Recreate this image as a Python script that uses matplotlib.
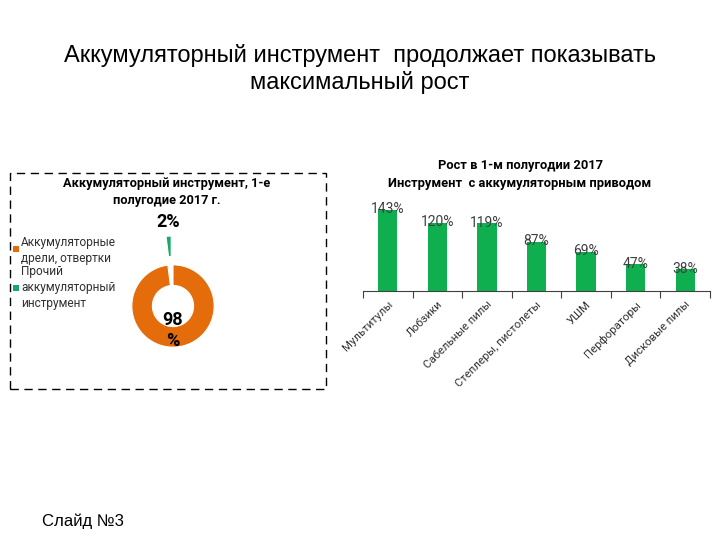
import matplotlib
matplotlib.use("Agg")
import matplotlib.pyplot as plt
from matplotlib.patches import Rectangle

# ---- data ----
pie_labels = ["Аккумуляторные\nдрели, отвертки", "Прочий\nаккумуляторный\nинструмент"]
pie_values = [98, 2]
pie_texts = ["98\n%", "2%"]

bar_categories = ["Мультитулы", "Лобзики", "Сабельные пилы", "Степлеры, пистолеты",
                  "УШМ", "Перфораторы", "Дисковые пилы"]
bar_values = [143, 120, 119, 87, 69, 47, 38]

main_title = "Аккумуляторный инструмент  продолжает показывать\nмаксимальный рост"
pie_title = "Аккумуляторный инструмент, 1-е\nполугодие 2017 г."
bar_title = "Рост в 1-м полугодии 2017\nИнструмент  с аккумуляторным приводом"
footer = "Слайд №3"

ORANGE = "#E46C0A"
PGREEN = "#17A865"
BGREEN = "#0FAF4F"
CF = ["Roboto", "DejaVu Sans"]
TF = ["Liberation Sans", "DejaVu Sans"]

W, H = 720, 540
fig = plt.figure(figsize=(7.2, 5.4), dpi=100)

def fx(px):
    return px / W

def fy(py):
    return 1 - py / H

# main title
fig.text(0.5, fy(69), main_title, ha="center", va="center", fontsize=17,
         family=TF, linespacing=1.2)
fig.text(fx(42), fy(521), footer, ha="left", va="center", fontsize=12, family=TF)

# dashed box
fig.patches.append(Rectangle((fx(10), fy(389)), fx(316), 216 / H, transform=fig.transFigure,
                             fill=False, edgecolor="black", linewidth=1.0,
                             linestyle=(0, (6, 4))))
fig.text(fx(167), fy(192), pie_title, ha="center", va="center", fontsize=9.2,
         fontweight="bold", family=CF, linespacing=1.45)

# ---- donut ----
axp = fig.add_axes([fx(103), fy(376), fx(140), 140 / H])
wedges, _ = axp.pie(pie_values, colors=[ORANGE, PGREEN], startangle=90, counterclock=False,
                    explode=[0, 0.7], radius=1.0,
                    wedgeprops=dict(width=0.5, edgecolor="white", linewidth=0.8))
axp.set_xlim(-1.7, 1.7)
axp.set_ylim(-1.7, 1.7)
axp.set_aspect("equal")
axp.axis("off")
axp.text(0, -0.6, pie_texts[0], ha="center", va="center", fontsize=13, fontweight="bold",
         family=CF, linespacing=1.2)
axp.text(-0.12, 2.04, pie_texts[1], ha="center", va="center", fontsize=13, fontweight="bold",
         family=CF, clip_on=False)

# legend
fig.patches.append(Rectangle((fx(13), fy(252)), fx(6), 6 / H, transform=fig.transFigure,
                             facecolor=ORANGE, edgecolor="none"))
fig.patches.append(Rectangle((fx(13), fy(291)), fx(6), 6 / H, transform=fig.transFigure,
                             facecolor=PGREEN, edgecolor="none"))
fig.text(fx(21), fy(250.5), pie_labels[0], ha="left", va="center", fontsize=8.6, family=CF,
         color="#303030", linespacing=1.25)
fig.text(fx(21), fy(287.5), pie_labels[1], ha="left", va="center", fontsize=8.6, family=CF,
         color="#303030", linespacing=1.25)

# ---- bar chart ----
axb = fig.add_axes([fx(363), fy(291), fx(347), 91 / H])
x = list(range(len(bar_values)))
axb.bar(x, bar_values, width=0.39, color=BGREEN)
axb.set_xlim(-0.5, len(bar_values) - 0.5)
axb.set_ylim(0, 160)
for s in ["top", "right", "left"]:
    axb.spines[s].set_visible(False)
axb.spines["bottom"].set_color("#404040")
axb.spines["bottom"].set_linewidth(0.8)
axb.set_yticks([])
axb.set_xticks([i - 0.5 for i in range(len(bar_values) + 1)], minor=False)
axb.set_xticklabels([])
axb.tick_params(axis="x", which="major", length=5, color="#404040", width=0.8)
axb.set_xticks(x, minor=True)
axb.set_xticklabels(bar_categories, minor=True, rotation=45, ha="right", va="top",
                    rotation_mode="anchor", fontsize=8.2, family=CF, color="#303030")
axb.tick_params(axis="x", which="minor", length=0, pad=6)
for xi, v in zip(x, bar_values):
    axb.text(xi, v + 1, f"{v}%", ha="center", va="center", fontsize=10, family=CF,
             color="#404040")
fig.text(fx(520), fy(174), bar_title, ha="center", va="center", fontsize=9.3,
         fontweight="bold", family=CF, linespacing=1.5)

fig.savefig("out.png", dpi=100)
